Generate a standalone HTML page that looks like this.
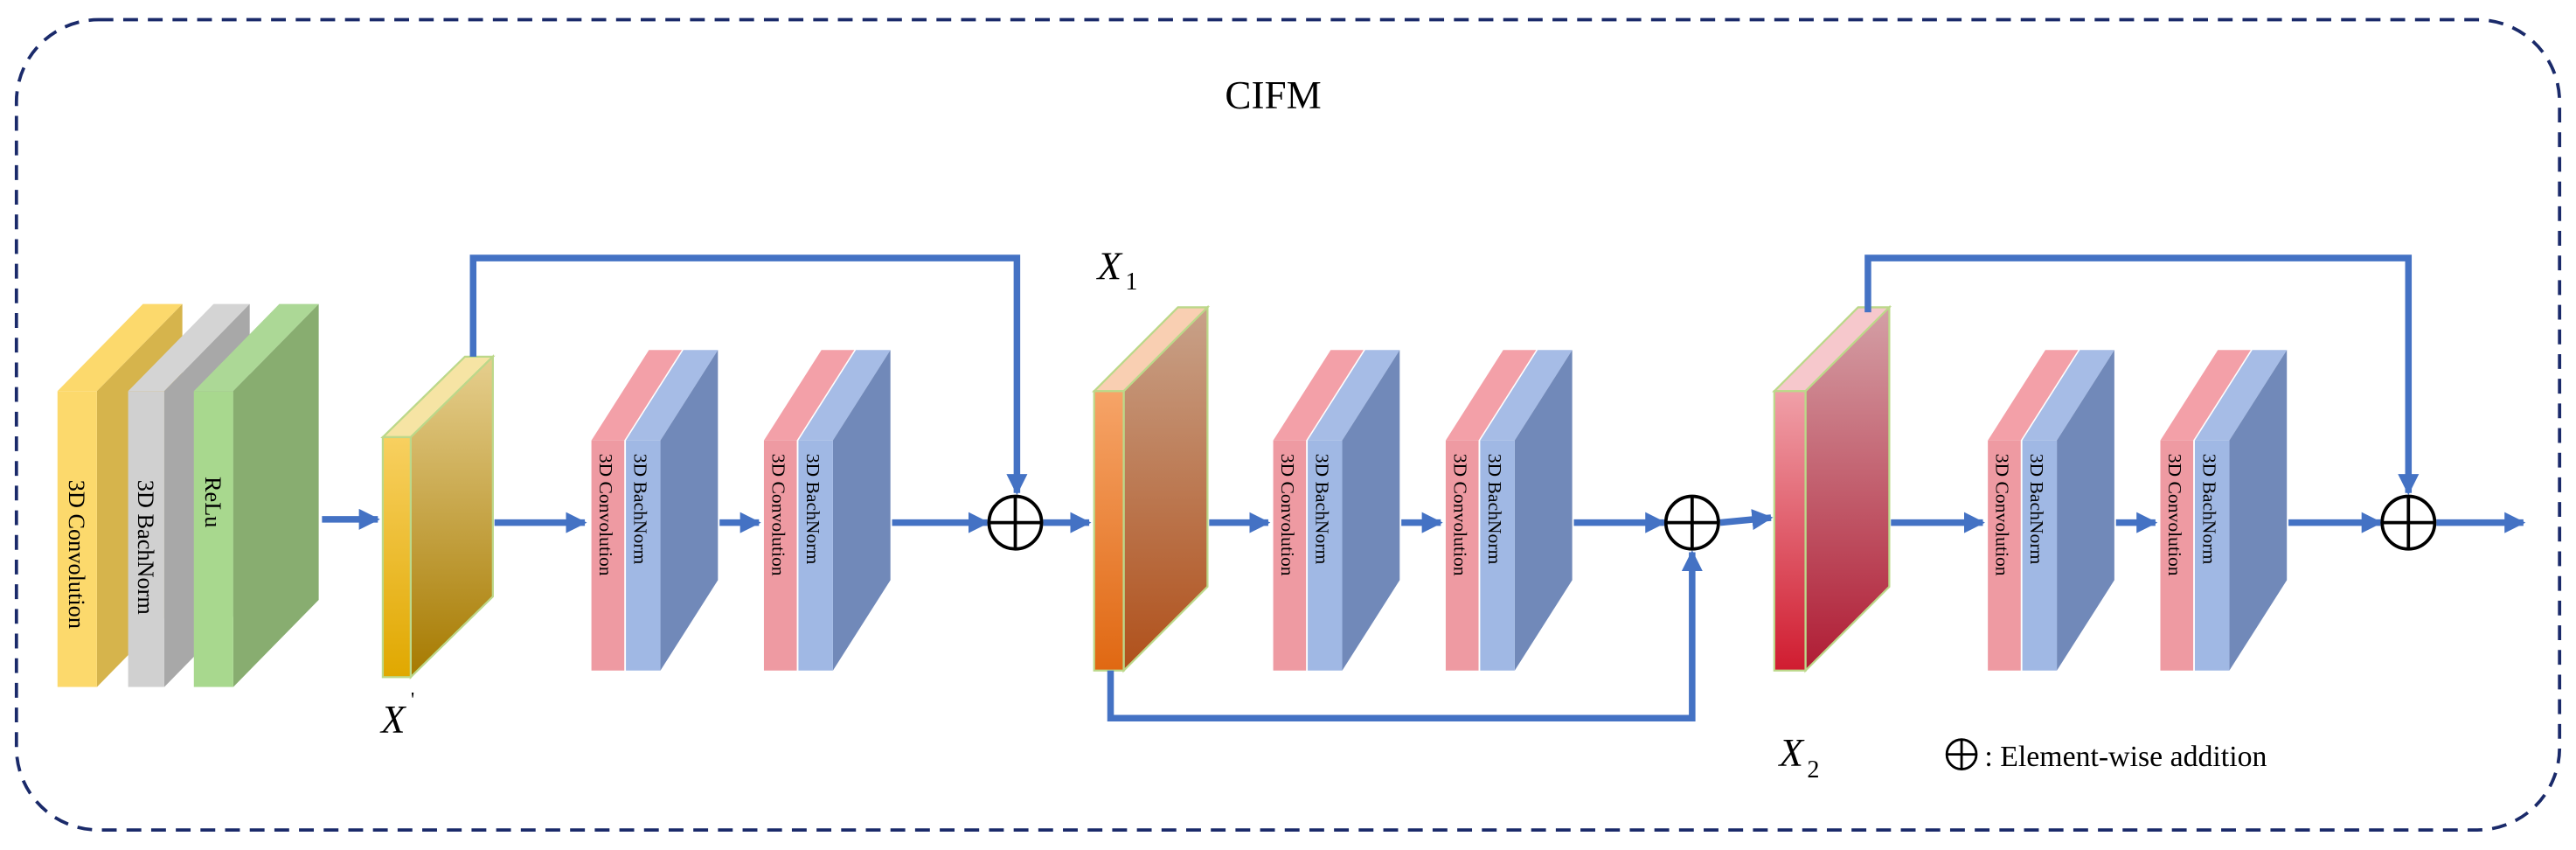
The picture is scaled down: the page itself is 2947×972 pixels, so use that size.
<!DOCTYPE html>
<html><head><meta charset="utf-8"><style>
html,body{margin:0;padding:0;background:#fff;}
svg{display:block;}
text{font-family:"Liberation Serif",serif;}
</style></head><body>
<svg width="2947" height="972" viewBox="0 0 1568 517.2" preserveAspectRatio="none" xmlns="http://www.w3.org/2000/svg">
<defs>
<marker id="ah" viewBox="0 0 10 10" refX="9" refY="5" markerWidth="3.2" markerHeight="3.2" orient="auto"><path d="M0,0 L10,5 L0,10 z" fill="#4472c4"/></marker>
<linearGradient id="xpf" x1="0" y1="0" x2="0" y2="1"><stop offset="0" stop-color="#f8d060"/><stop offset="1" stop-color="#e0a800"/></linearGradient>
<linearGradient id="xps" x1="0" y1="0" x2="0" y2="1"><stop offset="0" stop-color="#e6cf8e"/><stop offset="1" stop-color="#a67a00"/></linearGradient>
<linearGradient id="x1f" x1="0" y1="0" x2="0" y2="1"><stop offset="0" stop-color="#f6a468"/><stop offset="1" stop-color="#e06812"/></linearGradient>
<linearGradient id="x1s" x1="0" y1="0" x2="0" y2="1"><stop offset="0" stop-color="#c8a28a"/><stop offset="1" stop-color="#b0501a"/></linearGradient>
<linearGradient id="x2f" x1="0" y1="0" x2="0" y2="1"><stop offset="0" stop-color="#f0a0a8"/><stop offset="1" stop-color="#d01c30"/></linearGradient>
<linearGradient id="x2s" x1="0" y1="0" x2="0" y2="1"><stop offset="0" stop-color="#d4a0a6"/><stop offset="1" stop-color="#b01c34"/></linearGradient>
</defs>
<rect x="10" y="12" width="1548" height="493" rx="50" fill="none" stroke="#1a2a6a" stroke-width="2" stroke-dasharray="9,6"/>
<text x="775" y="66" font-size="24" text-anchor="middle">CIFM</text>

<!-- first three blocks -->
<g>
<polygon points="35,238 87,185 111,185 59,238" fill="#fcd96c"/>
<polygon points="59,238 111,185 111,365 59,418" fill="#d6b44c"/>
<rect x="35" y="238" width="24" height="180" fill="#fcd96c"/>
<text transform="translate(42,292) rotate(90)" font-size="14">3D Convolution</text>
</g>
<g>
<polygon points="78,238 130,185 152,185 100,238" fill="#d4d4d4"/>
<polygon points="100,238 152,185 152,365 100,418" fill="#a8a8a8"/>
<rect x="78" y="238" width="22" height="180" fill="#d0d0d0"/>
<text transform="translate(84,292) rotate(90)" font-size="14">3D  BachNorm</text>
</g>
<g>
<polygon points="118,238 170,185 194,185 142,238" fill="#acd896"/>
<polygon points="142,238 194,185 194,365 142,418" fill="#88ad70"/>
<rect x="118" y="238" width="24" height="180" fill="#a8d88e"/>
<text transform="translate(125,290) rotate(90)" font-size="14">ReLu</text>
</g>

<!-- X' -->
<g stroke="#bcd88a" stroke-width="1.2">
<polygon points="233,266 283,217 300,217 250,266" fill="#f6e4a4"/>
<polygon points="250,266 300,217 300,363 250,412" fill="url(#xps)"/>
<rect x="233" y="266" width="17" height="146" fill="url(#xpf)"/>
</g>
<text x="232" y="446" font-size="24" font-style="italic">X</text><text x="250" y="430" font-size="13">'</text>

<!-- pair template -->
<g id="pairA">
<polygon points="360,268 395,213 415,213 380,268" fill="#f3a0a8"/>
<rect x="360" y="268" width="20" height="140" fill="#ee9aa2"/>
<polygon points="381,268 416,213 437,213 402,268" fill="#a6bce6"/>
<polygon points="402,268 437,213 437,353 402,408" fill="#7189b9"/>
<rect x="381" y="268" width="21" height="140" fill="#a0b8e4"/>
<text transform="translate(365,276) rotate(90)" font-size="11.5">3D Convolution</text>
<text transform="translate(386,276) rotate(90)" font-size="11.5">3D  BachNorm</text>
</g>
<use href="#pairA" x="105"/>
<use href="#pairA" x="415"/>
<use href="#pairA" x="520"/>
<use href="#pairA" x="850"/>
<use href="#pairA" x="955"/>

<!-- X1 -->
<g stroke="#bcd88a" stroke-width="1.2">
<polygon points="666,238 717,187 735,187 684,238" fill="#f9cfb2"/>
<polygon points="684,238 735,187 735,357 684,408" fill="url(#x1s)"/>
<rect x="666" y="238" width="18" height="170" fill="url(#x1f)"/>
</g>
<text x="668" y="170" font-size="24" font-style="italic">X</text><text x="685" y="176" font-size="15">1</text>

<!-- X2 -->
<g stroke="#bcd88a" stroke-width="1.2">
<polygon points="1080,238 1131,187 1150,187 1099,238" fill="#f6c8cc"/>
<polygon points="1099,238 1150,187 1150,357 1099,408" fill="url(#x2s)"/>
<rect x="1080" y="238" width="19" height="170" fill="url(#x2f)"/>
</g>
<text x="1083" y="466" font-size="24" font-style="italic">X</text><text x="1100" y="473" font-size="15">2</text>

<!-- connectors -->
<g stroke="#4472c4" stroke-width="4" fill="none">
<line x1="196" y1="316" x2="230" y2="316" marker-end="url(#ah)"/>
<line x1="301" y1="318" x2="356" y2="318" marker-end="url(#ah)"/>
<line x1="438" y1="318" x2="462" y2="318" marker-end="url(#ah)"/>
<line x1="543" y1="318" x2="601" y2="318" marker-end="url(#ah)"/>
<line x1="635" y1="318" x2="663" y2="318" marker-end="url(#ah)"/>
<line x1="736" y1="318" x2="772" y2="318" marker-end="url(#ah)"/>
<line x1="853" y1="318" x2="877" y2="318" marker-end="url(#ah)"/>
<line x1="958" y1="318" x2="1013" y2="318" marker-end="url(#ah)"/>
<line x1="1047" y1="318" x2="1078" y2="315" marker-end="url(#ah)"/>
<line x1="1151" y1="318" x2="1207" y2="318" marker-end="url(#ah)"/>
<line x1="1288" y1="318" x2="1312" y2="318" marker-end="url(#ah)"/>
<line x1="1393" y1="318" x2="1449" y2="318" marker-end="url(#ah)"/>
<line x1="1483" y1="318" x2="1536" y2="318" marker-end="url(#ah)"/>
<polyline points="288,217 288,157 619,157 619,300" marker-end="url(#ah)"/>
<polyline points="676,408 676,437 1030,437 1030,336" marker-end="url(#ah)"/>
<polyline points="1137,190 1137,157 1466,157 1466,300" marker-end="url(#ah)"/>
</g>

<!-- circles -->
<g stroke="#000" stroke-width="2" fill="#fff">
<circle cx="618" cy="318" r="16"/><line x1="602" y1="318" x2="634" y2="318"/><line x1="618" y1="302" x2="618" y2="334"/>
<circle cx="1030" cy="318" r="16"/><line x1="1014" y1="318" x2="1046" y2="318"/><line x1="1030" y1="302" x2="1030" y2="334"/>
<circle cx="1466" cy="318" r="16"/><line x1="1450" y1="318" x2="1482" y2="318"/><line x1="1466" y1="302" x2="1466" y2="334"/>
</g>

<!-- legend -->
<g stroke="#000" stroke-width="1.5" fill="none">
<circle cx="1194" cy="459" r="9"/><line x1="1185" y1="459" x2="1203" y2="459"/><line x1="1194" y1="450" x2="1194" y2="468"/>
</g>
<text x="1208" y="466" font-size="18">: Element-wise addition</text>
</svg>
</body></html>
